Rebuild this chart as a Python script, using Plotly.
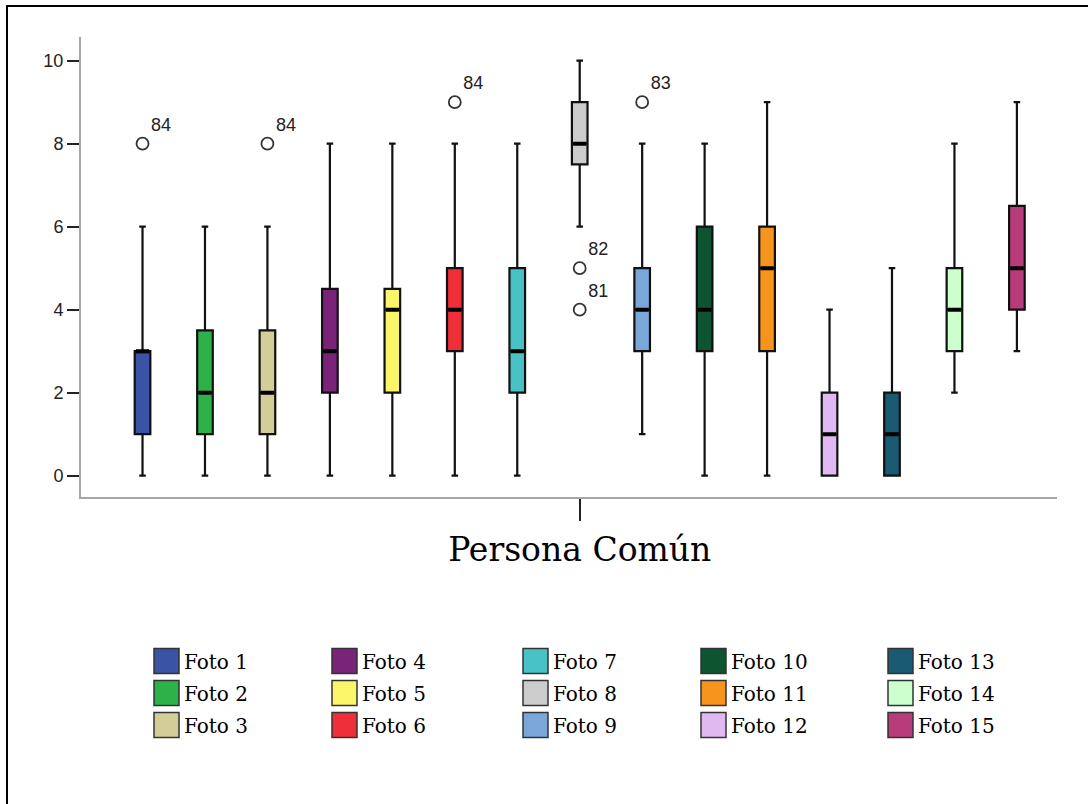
import plotly.graph_objects as go

# ---------------- data ----------------
photos = ["Foto 1", "Foto 2", "Foto 3", "Foto 4", "Foto 5", "Foto 6", "Foto 7", "Foto 8",
          "Foto 9", "Foto 10", "Foto 11", "Foto 12", "Foto 13", "Foto 14", "Foto 15"]
colors = ["#3a53a4", "#2db24a", "#d3ce97", "#7a2479", "#fbf669", "#ef2f37", "#48c2c5", "#cccccc",
          "#7aa6d9", "#0d5430", "#f7941d", "#e0b9f2", "#1a5b73", "#ccffcc", "#b83c7b"]
q1 = [1, 1, 1, 2, 2, 3, 2, 7.5, 3, 3, 3, 0, 0, 3, 4]
median = [3, 2, 2, 3, 4, 4, 3, 8, 4, 4, 5, 1, 1, 4, 5]
q3 = [3, 3.5, 3.5, 4.5, 4.5, 5, 5, 9, 5, 6, 6, 2, 2, 5, 6.5]
lower_fence = [0, 0, 0, 0, 0, 0, 0, 6, 1, 0, 0, 0, 0, 2, 3]
upper_fence = [6, 6, 6, 8, 8, 8, 8, 10, 8, 8, 9, 4, 5, 8, 9]
outlier_photo = [1, 3, 6, 8, 8, 9]
outlier_value = [8, 8, 9, 5, 4, 9]
outlier_case = ["84", "84", "84", "82", "81", "83"]
group_label = "Persona Común"
y_ticks = [0, 2, 4, 6, 8, 10]

# ---------------- layout geometry (pixels) ----------------
W, H = 1088, 804
L, R, T, B = 81, 1057, 37, 497


def px(x):
    return (x - L) / (R - L)


def py(y):
    return (B - y) / (B - T)


positions = list(range(1, len(photos) + 1))
fig = go.Figure()

for i, name in enumerate(photos):
    fig.add_trace(go.Box(
        x=[positions[i]], q1=[q1[i]], median=[median[i]], q3=[q3[i]],
        lowerfence=[lower_fence[i]], upperfence=[upper_fence[i]],
        name=name, width=0.25, fillcolor=colors[i],
        line=dict(color="#111111", width=2.2), whiskerwidth=0.42,
        boxpoints=False, showlegend=False, hoverinfo="skip",
    ))
    # thicker median bar
    fig.add_trace(go.Box(
        x=[positions[i]], q1=[median[i]], median=[median[i]], q3=[median[i]],
        lowerfence=[median[i]], upperfence=[median[i]],
        width=0.21, fillcolor="black", line=dict(color="black", width=4),
        whiskerwidth=0, boxpoints=False, showlegend=False, hoverinfo="skip",
    ))

fig.add_trace(go.Scatter(
    x=outlier_photo, y=outlier_value, mode="markers+text",
    text=outlier_case, textposition="top right",
    textfont=dict(family="Liberation Sans, Arial, sans-serif", size=18, color="#222222"),
    marker=dict(symbol="circle-open", size=12, color="#333333", line=dict(width=1.8, color="#333333")),
    showlegend=False, hoverinfo="skip", cliponaxis=False,
))

# ---------------- legend (column-major, 5 x 3) ----------------
shapes = []
annotations = []
col_left = [154, 332, 523, 701, 888]
row_center = [661, 693, 725]
sw = 25
for i, name in enumerate(photos):
    c, r = divmod(i, 3)
    x0 = col_left[c]
    yc = row_center[r]
    shapes.append(dict(type="rect", xref="paper", yref="paper",
                       x0=px(x0), x1=px(x0 + sw), y0=py(yc - sw / 2), y1=py(yc + sw / 2),
                       fillcolor=colors[i], line=dict(color="#333333", width=1.5)))
    annotations.append(dict(xref="paper", yref="paper", x=px(x0 + sw + 3), y=py(yc + 1),
                            text=name, showarrow=False, xanchor="left", yanchor="middle",
                            font=dict(family="DejaVu Serif", size=20, color="black")))

# outer frame
shapes.append(dict(type="rect", xref="paper", yref="paper",
                   x0=px(7), x1=px(W + 10), y0=py(6), y1=py(H + 10),
                   line=dict(color="black", width=2), fillcolor="rgba(0,0,0,0)"))

fig.update_layout(
    width=W, height=H,
    margin=dict(l=L, r=W - R, t=T, b=H - B, pad=0),
    paper_bgcolor="white", plot_bgcolor="white",
    showlegend=False,
    shapes=shapes, annotations=annotations,
    xaxis=dict(range=[0.015, 15.642], tickmode="array", tickvals=[8], ticktext=[group_label],
               ticks="outside", ticklen=22, tickwidth=2, tickcolor="#222222",
               tickfont=dict(family="DejaVu Serif", size=33, color="black"),
               showline=True, linecolor="#a6a6a6", linewidth=2,
               showgrid=False, zeroline=False, fixedrange=True),
    yaxis=dict(range=[-0.513, 10.571], tickmode="array", tickvals=y_ticks,
               ticks="outside", ticklen=12, tickwidth=2, tickcolor="#222222",
               tickfont=dict(family="Liberation Sans, Arial, sans-serif", size=18, color="#222222"),
               showline=True, linecolor="#a6a6a6", linewidth=2,
               showgrid=False, zeroline=False, fixedrange=True),
)

fig.write_html("out.html", config={"displayModeBar": False},
               post_script="document.body.style.margin='0';")
